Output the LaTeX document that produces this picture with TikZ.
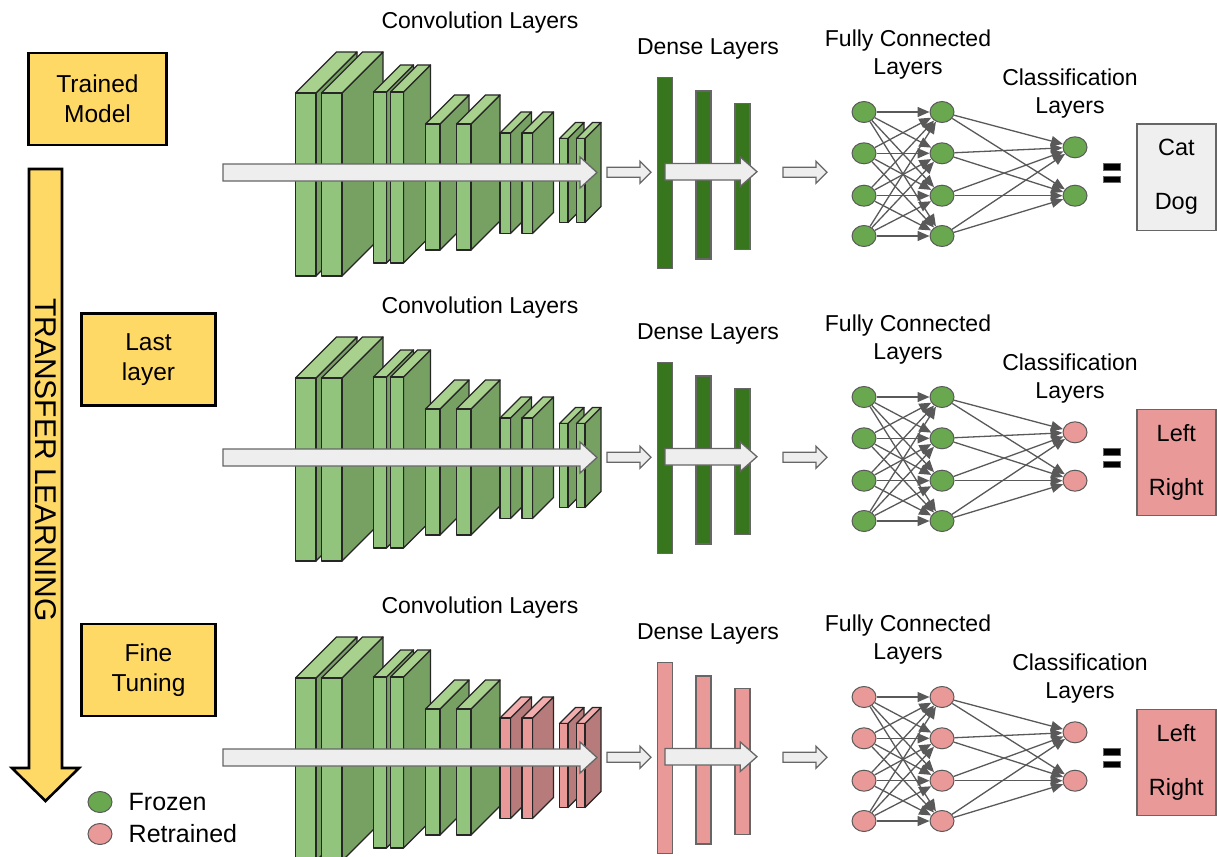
\documentclass[tikz,border=0pt]{standalone}
\usepackage{fontspec}
\setmainfont{Liberation Sans}
\usetikzlibrary{shapes.geometric}
\usetikzlibrary{arrows.meta}
\usetikzlibrary{positioning}

\definecolor{greenfront}{HTML}{93C47D}
\definecolor{greentop}{HTML}{A9D18E}
\definecolor{greenside}{HTML}{77A063}
\definecolor{pinkfront}{HTML}{EA9999}
\definecolor{pinktop}{HTML}{F2AEAE}
\definecolor{pinkside}{HTML}{B87B7B}
\definecolor{densegreen}{HTML}{38761D}
\definecolor{neurongreen}{HTML}{6AA84F}
\definecolor{neuronpink}{HTML}{EA9999}
\definecolor{modelyellow}{HTML}{FFD966}
\definecolor{flowgray}{HTML}{EEEEEE}
\definecolor{edgegray}{HTML}{595959}
\definecolor{boxgray}{HTML}{EFEFEF}

\tikzset{%
    neuron/.style={ellipse,draw=edgegray,line width=1pt,minimum width=24pt,minimum height=21pt,inner sep=0pt},
    blk/.style={draw=black!85,line width=1.3pt,line join=round}
}

\newcommand{\convblock}[6]{%
    \filldraw[blk,fill=#6side] (#1+#3,#2) -- ++(#5,-#5) -- ++(0,#4) -- ++(-#5,#5) -- cycle;
    \filldraw[blk,fill=#6top] (#1,#2) -- ++(#5,-#5) -- ++(#3,0) -- ++(-#5,#5) -- cycle;
    \filldraw[blk,fill=#6front] (#1,#2) rectangle ++(#3,#4);
}
\newcommand{\flowarrow}[6]{%
    \filldraw[flow] (#1,#3-#4) -- (#2-#6,#3-#4) -- (#2-#6,#3-#5) -- (#2,#3) -- (#2-#6,#3+#5) -- (#2-#6,#3+#4) -- (#1,#3+#4) -- cycle;
}

\begin{document}
\begin{tikzpicture}[
        x=1pt, y=-1pt,
        flow/.style={draw=black!60,fill=flowgray,line width=1.3pt},
        densebar/.style={draw=black!60,line width=1.3pt},
        lbl/.style={align=center,font=\fontsize{23}{28}\selectfont},
        edge/.style={draw=edgegray,line width=1.3pt,-{Triangle[length=12pt,width=10pt]}},
        stage/.style={draw=black,line width=2.6pt,fill=modelyellow,minimum height=92pt,align=center,font=\fontsize{24.5}{30}\selectfont},
        result/.style={draw=black!60,line width=1.4pt,minimum width=79pt,minimum height=106pt,align=center,font=\fontsize{23.5}{54}\selectfont},
        legend/.style={inner sep=0pt,font=\fontsize{25}{30}\selectfont}
    ]
    \useasboundingbox (0,0) rectangle (1217,856);

    \filldraw[draw=black,line width=2.6pt,fill=modelyellow]
        (29,169) -- (62,169) -- (62,768) -- (79,768) -- (45.5,801) -- (12,768) -- (29,768) -- cycle;
    \node[rotate=-90,font=\fontsize{30}{36}\selectfont] (transfer) at (45.5,460) {TRANSFER LEARNING};

    \node[stage,minimum width=138pt] (trained) at (97.5,99) {Trained\\Model};
    \node[stage,minimum width=134pt] (last) at (148.5,359.5) {Last\\layer};
    \node[stage,minimum width=134pt] (fine) at (148.5,670) {Fine\\Tuning};

    \node[neuron,fill=neurongreen] (frozen) at (100,802) {};
    \node[legend,right=16pt of frozen] (frozentxt) {Frozen};
    \node[neuron,fill=neuronpink] (retrained) at (100,834) {};
    \node[legend,right=16pt of retrained] (retrainedtxt) {Retrained};

    \foreach \rw/\dy/\late/\dense/\nrn/\outn/\boxc/\labA/\labB/\clx in {%
        1/0/green/densegreen/neurongreen/neurongreen/boxgray/Cat/Dog/1070,
        2/285/green/densegreen/neurongreen/neuronpink/pinkfront/Left/Right/1070,
        3/585/pink/pinkfront/neuronpink/neuronpink/pinkfront/Left/Right/1080}{
    \begin{scope}[yshift=-\dy pt]
        \foreach \bx/\by/\bw/\bh/\bd in {295.5/93/20.5/183/41, 321.5/93/20.5/183/41,
                373.5/92/13/171/27, 390.5/92/13/171/27, 425.5/124/14.5/126/29, 456.5/124/14.5/126/29}
            {\convblock{\bx}{\by}{\bw}{\bh}{\bd}{green}}
        \foreach \bx/\by/\bw/\bh/\bd in {500/133/10.5/100.5/21, 522/133/10.5/100.5/21,
                559.5/138.5/8.5/84/16, 576.5/138.5/8.5/84/16}
            {\convblock{\bx}{\by}{\bw}{\bh}{\bd}{\late}}
        \flowarrow{223}{597}{172.5}{8.5}{15.5}{17}
        \flowarrow{607}{651}{172.3}{5}{11}{11}

        \filldraw[densebar,fill=\dense] (657.5,77.5) rectangle (672.5,268.5);
        \filldraw[densebar,fill=\dense] (696,91) rectangle (711,259);
        \filldraw[densebar,fill=\dense] (735,103.5) rectangle (750,249.5);
        \flowarrow{665}{757}{171.7}{8.3}{14.7}{16.7}
        \flowarrow{783}{827}{172.3}{5}{11}{11}

        \foreach \i/\ny in {1/112,2/153.3,3/195.7,4/236}{
            \node[neuron,fill=\nrn] (in\rw-\i) at (864,\ny) {};
            \node[neuron,fill=\nrn] (hid\rw-\i) at (942,\ny) {};
        }
        \node[neuron,fill=\outn] (out\rw-1) at (1075,147.3) {};
        \node[neuron,fill=\outn] (out\rw-2) at (1075,195.7) {};
        \foreach \i in {1,...,4}{
            \foreach \j in {1,...,4}
                {\draw[edge] (in\rw-\i) -- (hid\rw-\j);}
            \foreach \k in {1,2}
                {\draw[edge] (hid\rw-\i) -- (out\rw-\k);}
        }

        \filldraw[draw=black!60,fill=black,line width=0.8pt] (1103,163.5) rectangle (1120,170.5);
        \filldraw[draw=black!60,fill=black,line width=0.8pt] (1103,176) rectangle (1120,182.5);
        \node[result,fill=\boxc] (res\rw) at (1176.3,177.2) {\labA\\\labB};

        \node[lbl] (conv\rw) at (480,23) {Convolution Layers};
        \node[lbl] (dense\rw) at (708,49) {Dense Layers};
        \node[lbl] (fc\rw) at (908,55) {Fully Connected\\Layers};
        \node[lbl] (cls\rw) at (\clx,93.5) {Classification\\Layers};
    \end{scope}
    }
\end{tikzpicture}
\end{document}
